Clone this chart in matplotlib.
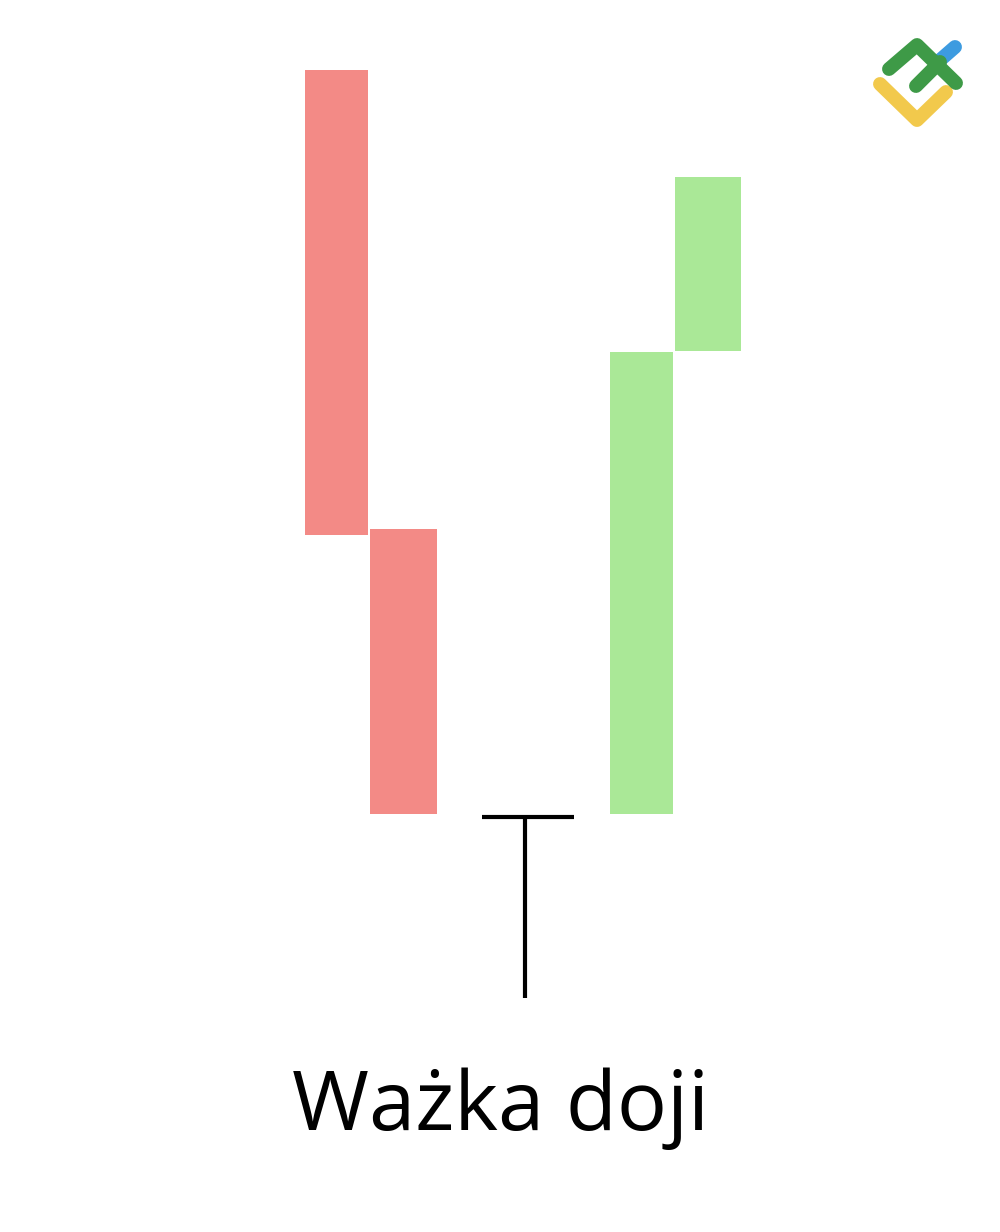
import matplotlib
matplotlib.use('Agg')
import matplotlib.pyplot as plt
from matplotlib.patches import Rectangle

# candle data (price units), left to right
candle_x = [336.5, 403.5, 641.5, 708.0]
candle_open = [93.0, 47.1, 18.6, 64.9]
candle_close = [46.5, 18.6, 64.8, 82.3]
candle_width = [63, 67, 63, 66]

# dragonfly doji
doji_x = 528.0
doji_price = 18.3
doji_low = 0.2
doji_width = 94

title = 'Ważka doji'

RED = '#F38A86'
GREEN = '#AAE897'

fig = plt.figure(figsize=(10, 12.32), dpi=100)
ax = fig.add_axes([0, 0, 1, 1])
ax.set_xlim(0, 1000)
ax.set_ylim(-23.2, 100)
ax.axis('off')

for x, o, c, w in zip(candle_x, candle_open, candle_close, candle_width):
    color = GREEN if c > o else RED
    ax.add_patch(Rectangle((x - w / 2, min(o, c)), w, abs(c - o),
                           facecolor=color, edgecolor='none'))

ax.plot([doji_x - doji_width / 2 + 1, doji_x + doji_width / 2 - 1],
        [doji_price, doji_price], color='black', lw=3, solid_capstyle='butt')
ax.plot([doji_x - 3, doji_x - 3], [doji_price, doji_low],
        color='black', lw=3, solid_capstyle='butt')

ax.text(501, -13.0, title, ha='center', va='baseline',
        fontsize=60, family='Open Sans', color='black')

# logo in top right corner (pixel coords)
lax = fig.add_axes([0, 0, 1, 1])
lax.set_xlim(0, 1000)
lax.set_ylim(1232, 0)
lax.axis('off')
kw = dict(lw=10, solid_capstyle='round', solid_joinstyle='round')
lax.plot([880, 917, 946], [84, 120, 92], color='#F2C94C', **kw)
lax.plot([939, 955], [61, 47], color='#3D9BE0', **kw)
lax.plot([889, 917, 956], [69, 45, 83], color='#3E9A47', **kw)
lax.plot([916, 940], [86, 62], color='#3E9A47', **kw)

fig.savefig('out.png', dpi=100, facecolor='white')
